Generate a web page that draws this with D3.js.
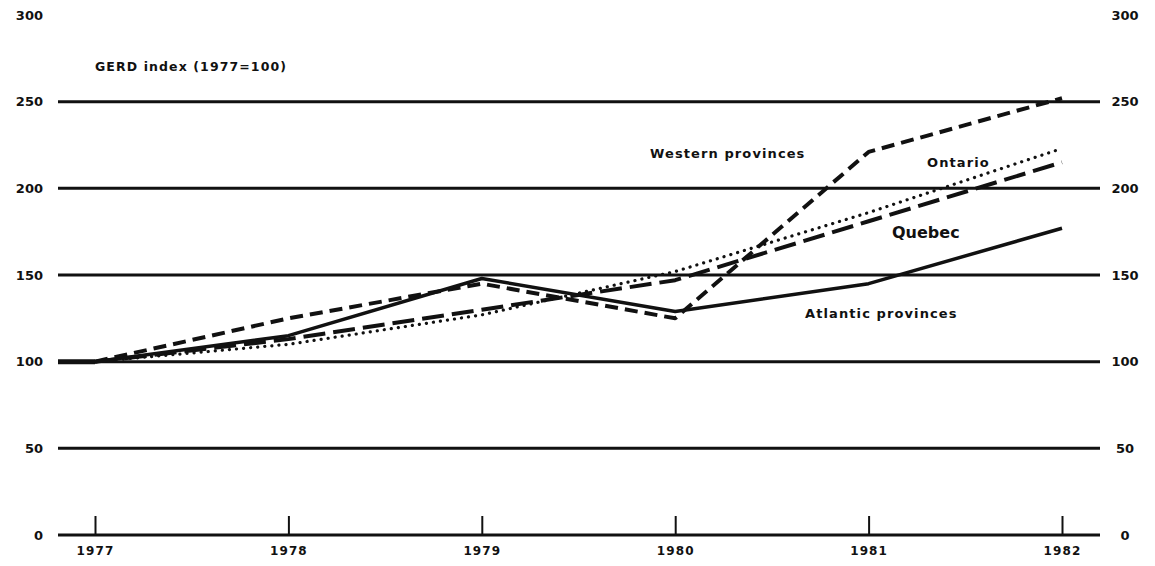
<!DOCTYPE html>
<html>
<head>
<meta charset="UTF-8" />
<script src="https://cdn.jsdelivr.net/npm/d3@7"></script>
<style>
  body { margin: 0; background: #fff; }
  svg text { font-family: "DejaVu Sans", "Liberation Sans", sans-serif; fill: #111; font-weight: bold; }
  .lbl { letter-spacing: 1.1px; }
</style>
</head>
<body>
<div id="chart"></div>
<script>
// values
const years = [1977, 1978, 1979, 1980, 1981, 1982];
const atlantic = [100, 115, 148, 129, 145, 177];
const quebec = [100, 113, 130, 147, 181, 215];
const ontario = [100, 110, 127, 152, 186, 223];
const western = [100, 125, 145, 125, 221, 252];
const yTicks = [0, 50, 100, 150, 200, 250, 300];
const gridTicks = [50, 100, 150, 200, 250];

const w = 1155, h = 566;
const svg = d3.select("#chart").append("svg")
    .attr("width", w)
    .attr("height", h);

const x = d3.scaleLinear().domain([1977, 1982]).range([95, 1062]);
const y = d3.scaleLinear().domain([0, 300]).range([535, 15]);
const gridLeft = 58, gridRight = 1100;

// horizontal rules
svg.append("g").selectAll("line")
    .data(gridTicks)
    .enter()
    .append("line")
    .attr("x1", gridLeft)
    .attr("x2", gridRight)
    .attr("y1", d => y(d))
    .attr("y2", d => y(d))
    .attr("stroke", "#111")
    .attr("stroke-width", 3);

// bottom axis (baseline + ticks pointing up)
const xAxis = d3.axisTop(x)
    .tickValues(years)
    .tickFormat(d3.format("d"))
    .tickSize(19)
    .tickSizeOuter(0);
const gx = svg.append("g")
    .attr("transform", "translate(0," + y(0) + ")")
    .call(xAxis);
gx.select(".domain").remove();
gx.selectAll(".tick line").attr("stroke", "#111").attr("stroke-width", 2);
gx.selectAll(".tick text")
    .attr("class", "lbl")
    .attr("y", 20)
    .attr("dy", 0)
    .attr("font-size", 12);
svg.append("line")
    .attr("x1", gridLeft)
    .attr("x2", gridRight)
    .attr("y1", y(0))
    .attr("y2", y(0))
    .attr("stroke", "#111")
    .attr("stroke-width", 3);

// left and right value labels
const yLeft = d3.axisLeft(y).tickValues(yTicks).tickSize(0);
const gl = svg.append("g").attr("transform", "translate(43,0)").call(yLeft);
gl.select(".domain").remove();
gl.selectAll(".tick text").attr("x", 0).attr("font-size", 13);

const yRight = d3.axisRight(y).tickValues(yTicks).tickSize(0);
const gr = svg.append("g").attr("transform", "translate(1125,0)").call(yRight);
gr.select(".domain").remove();
gr.selectAll(".tick text").attr("x", 0).attr("text-anchor", "middle")
    .attr("font-size", 13);

// series
const line = d3.line()
    .x((d, i) => x(years[i]))
    .y(d => y(d));

const series = [
    { values: ontario, width: 3.2, dash: "0.1,7", cap: "round" },
    { values: quebec, width: 4, dash: "22,8", cap: "butt" },
    { values: western, width: 4, dash: "13,7", cap: "butt" },
    { values: atlantic, width: 3.5, dash: null, cap: "butt" }
];
series.forEach(s => {
    svg.append("path")
        .attr("d", line(s.values))
        .attr("fill", "none")
        .attr("stroke", "#111")
        .attr("stroke-width", s.width)
        .attr("stroke-linecap", s.cap)
        .attr("stroke-linejoin", "round")
        .attr("stroke-dasharray", s.dash);
});

// lead-in along the 100 line before 1977
svg.append("line")
    .attr("x1", gridLeft)
    .attr("x2", x(1977))
    .attr("y1", y(100))
    .attr("y2", y(100))
    .attr("stroke", "#111")
    .attr("stroke-width", 5);

// labels
svg.append("text").attr("class", "lbl").attr("x", 95).attr("y", 71)
    .attr("font-size", 12.5)
    .text("GERD index (1977=100)");
svg.append("text").attr("class", "lbl").attr("x", 650).attr("y", 158)
    .attr("font-size", 13)
    .text("Western provinces");
svg.append("text").attr("class", "lbl").attr("x", 927).attr("y", 167)
    .attr("font-size", 13)
    .text("Ontario");
svg.append("text").attr("x", 892).attr("y", 238)
    .attr("font-size", 16)
    .text("Quebec");
svg.append("text").attr("class", "lbl").attr("x", 805).attr("y", 318)
    .attr("font-size", 13)
    .text("Atlantic provinces");
</script>
</body>
</html>
